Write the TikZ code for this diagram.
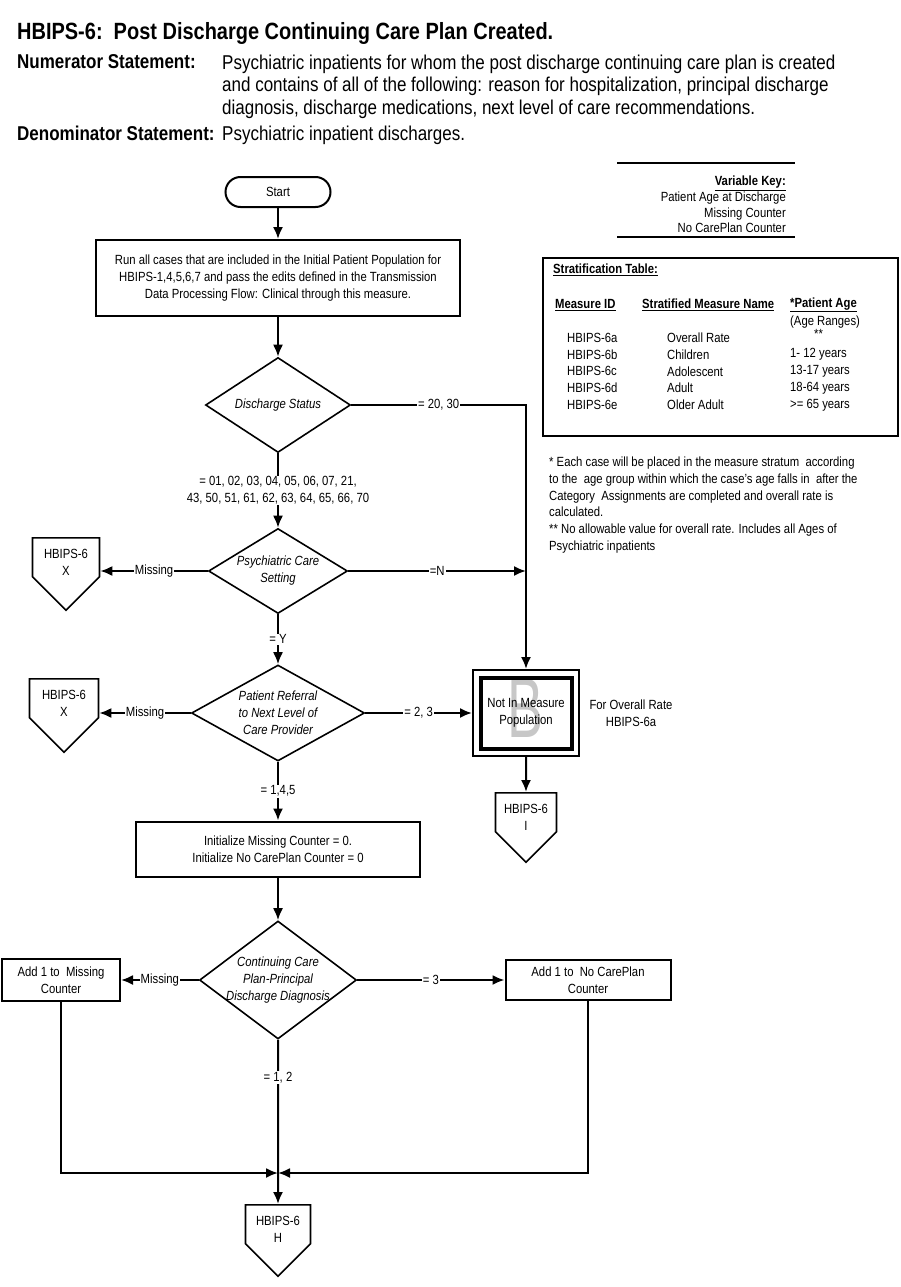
\documentclass[tikz,border=0pt]{standalone}
\usepackage{fontspec}
\setmainfont{Liberation Sans}[FakeStretch=0.85]
\usetikzlibrary{positioning, shapes.geometric, shapes.symbols, arrows.meta}
\newcommand{\flowfont}{\fontsize{13.3}{17}\selectfont}
\tikzset{
	process/.style={draw, rectangle, line width=2pt, align=center, inner sep=2pt},
	decision/.style={draw, diamond, line width=1.6pt, align=center, inner sep=0pt, font=\flowfont\itshape},
	terminal/.style={draw, rectangle, rounded corners=15pt, line width=2pt, minimum width=105pt, minimum height=30pt},
	offpage/.style={draw, signal, signal to=south, signal pointer angle=90, line width=1.6pt, align=center, inner sep=1pt, text height=37pt, text depth=-5pt, anchor=north},
	cond/.style={fill=white, inner sep=1pt, align=center},
	% Not In Measure Population box, with its inner frame and the grey letter
	nimbox/.style={draw, rectangle, line width=2pt, minimum width=106pt, minimum height=86pt, align=center,
		path picture={
			\node[text=black!22, inner sep=0pt, font=\fontsize{85}{85}\selectfont, xscale=0.75] at ([yshift=5pt]path picture bounding box.center) {B};
			\draw[line width=3.5pt] ([shift={(8pt,-8pt)}]path picture bounding box.north west) rectangle ([shift={(-7pt,7pt)}]path picture bounding box.south east);
		}},
	txt/.style={inner sep=0pt, align=left},
	head/.style={inner sep=0pt, align=left, font=\fontsize{20}{22.3}\selectfont},
}

\begin{document}
\begin{tikzpicture}[x=1pt, y=-1pt, font=\flowfont]
	\useasboundingbox (0,0) rectangle (901,1287);

	% heading
	\node (title) [head, anchor=base west, font=\fontsize{23.5}{26}\selectfont\bfseries] at (17,40) {HBIPS-6:\ \ Post Discharge Continuing Care Plan Created.};
	\node (numlbl) [head, anchor=base west, font=\fontsize{20}{22.3}\selectfont\bfseries] at (17,69) {Numerator Statement:};
	\node (numtxt) [head, anchor=north west] at (222,55) {Psychiatric inpatients for whom the post discharge continuing care plan is created\\and contains of all of the following: reason for hospitalization, principal discharge\\diagnosis, discharge medications, next level of care recommendations.};
	\node (denlbl) [head, anchor=base west, font=\fontsize{20}{22.3}\selectfont\bfseries] at (17,141) {Denominator Statement:};
	\node (dentxt) [head, anchor=base west] at (222,141) {Psychiatric inpatient discharges.};

	% variable key
	\draw[line width=2pt] (617,163) -- (795,163);
	\node (varkey) [txt, align=right, anchor=north east] at (786,176) {\underline{\textbf{Variable Key:}}\\[-1.3pt]Patient Age at Discharge\\[-1.3pt]Missing Counter\\[-1.3pt]No CarePlan Counter};
	\draw[line width=2pt] (617,237) -- (795,237);

	% stratification table
	\draw[line width=2pt] (543,258) rectangle (898,436);
	\node (strat) [txt, anchor=west] at (553,270) {\underline{\textbf{Stratification Table:}}};
	\node (hid) [txt, anchor=west] at (555,305) {\underline{\textbf{Measure ID}}};
	\node (hname) [txt, anchor=west] at (642,305) {\underline{\textbf{Stratified Measure Name}}};
	\node (hage) [txt, anchor=west] at (790,305) {\underline{\textbf{*Patient Age}}};
	\node (hrange) [txt, anchor=west] at (790,322) {(Age Ranges)};
	\node (stars) [txt, anchor=west] at (814,334) {**};
	\foreach \id/\name/\age [count=\i] in {a/Overall Rate/, b/Children/1- 12 years, c/Adolescent/13-17 years, d/Adult/18-64 years, e/Older Adult/>= 65 years}{
		\node (id\i) [txt, anchor=west] at (567,{321+16.8*\i}) {HBIPS-6\id};
		\node (nm\i) [txt, anchor=west] at (667,{321+16.8*\i}) {\name};
		\node (age\i) [txt, anchor=west] at (790,{321+16.8*\i}) {\age};
	}

	% notes
	\node (notes) [txt, anchor=north west, font=\fontsize{13.3}{16.7}\selectfont] at (549,457) {* Each case will be placed in the measure stratum\ \ according\\to the\ \ age group within which the case's age falls in\ \ after the\\Category\ \ Assignments are completed and overall rate is\\calculated.\\** No allowable value for overall rate. Includes all Ages of\\Psychiatric inpatients};

	% flow
	\node (start) [terminal] at (278,192) {Start};
	\node (run) [process, minimum width=364pt, minimum height=76pt] at (278,278) {Run all cases that are included in the Initial Patient Population for\\HBIPS-1,4,5,6,7 and pass the edits defined in the Transmission\\Data Processing Flow: Clinical through this measure.};
	\node (ds) [decision, aspect=1.5, minimum width=145pt, minimum height=95pt] at (278,405) {Discharge Status};
	\node (ps) [decision, aspect=1.6, inner sep=-2pt, minimum width=139pt, minimum height=85pt] at (278,571) {Psychiatric Care\\Setting};
	\node (pr) [decision, aspect=1.8, inner sep=-2pt, minimum width=173pt, minimum height=96pt] at (278,713) {Patient Referral\\to Next Level of\\Care Provider};
	\node (nim) [nimbox] at (526,713) {Not In Measure\\Population};
	\node (overall) [right=6pt of nim, align=center] {For Overall Rate\\HBIPS-6a};
	\node (init) [process, minimum width=284pt, minimum height=55pt] at (278,849) {Initialize Missing Counter = 0.\\Initialize No CarePlan Counter = 0};
	\node (cc) [decision, aspect=1.33, inner sep=-6pt, minimum width=157pt, minimum height=118pt] at (278,980) {Continuing Care\\Plan-Principal\\Discharge Diagnosis};
	\node (addmiss) [process, minimum width=118pt, minimum height=42pt] at (61,980) {Add 1 to\ \ Missing\\Counter};
	\node (addnocp) [process, minimum width=165pt, minimum height=40pt] at (588,980) {Add 1 to\ \ No CarePlan\\Counter};
	\coordinate (merge) at (278,1173);

	% off-page connectors
	\node (xps) [offpage, minimum width=67pt] at (66,537) {HBIPS-6\\X};
	\node (xpr) [offpage, minimum width=69pt] at (64,678) {HBIPS-6\\X};
	\node (inm) [offpage, minimum width=61pt] at (526,792) {HBIPS-6\\I};
	\node (hout) [offpage, minimum width=65pt] at (278,1204) {HBIPS-6\\H};

	\begin{scope}[line width=2pt, ->, >={Latex[length=12pt,width=10pt]}]
		\draw (start) -- (run);
		\draw (run) -- (ds);
		\draw (ds.east) -- node[cond] {= 20, 30} (ds.east -| nim.north) -- (nim.north);
		\draw (ds) -- node[cond] {= 01, 02, 03, 04, 05, 06, 07, 21,\\43, 50, 51, 61, 62, 63, 64, 65, 66, 70} (ps);
		\draw (ps.west) -- node[cond] {Missing} (ps.west -| xps.east);
		\draw (ps.east) -- node[cond] {=N} (ps.east -| nim.north);
		\draw (ps) -- node[cond] {= Y} (pr);
		\draw (pr.west) -- node[cond] {Missing} (pr.west -| xpr.east);
		\draw (pr) -- node[cond] {= 2, 3} (nim);
		\draw (nim) -- (inm);
		\draw (pr) -- node[cond] {= 1,4,5} (init);
		\draw (init) -- (cc);
		\draw (cc) -- node[cond] {Missing} (addmiss);
		\draw (cc) -- node[cond] {= 3} (addnocp);
		\draw (cc) -- node[cond, pos=0.23] {= 1, 2} (hout);
		\draw (addmiss) |- (merge);
		\draw (addnocp) |- (merge);
	\end{scope}
\end{tikzpicture}
\end{document}
